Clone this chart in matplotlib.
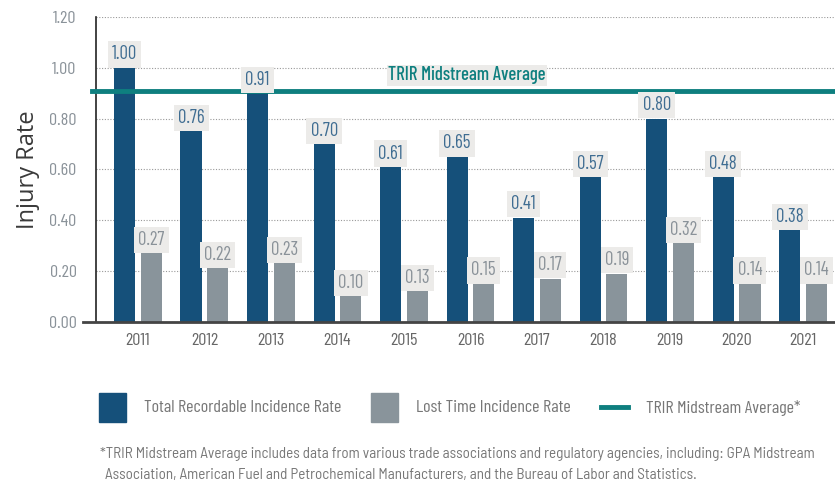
import numpy as np
import matplotlib
matplotlib.use("Agg")
from matplotlib import pyplot as plt
from matplotlib.patches import Rectangle
from matplotlib.lines import Line2D

# data
years = ["2011", "2012", "2013", "2014", "2015", "2016", "2017", "2018", "2019", "2020", "2021"]
trir = [1.00, 0.75, 0.90, 0.70, 0.61, 0.65, 0.41, 0.57, 0.80, 0.57, 0.36]
trir_labels = ["1.00", "0.76", "0.91", "0.70", "0.61", "0.65", "0.41", "0.57", "0.80", "0.48", "0.38"]
ltir = [0.27, 0.21, 0.23, 0.10, 0.12, 0.15, 0.17, 0.19, 0.31, 0.15, 0.15]
ltir_labels = ["0.27", "0.22", "0.23", "0.10", "0.13", "0.15", "0.17", "0.19", "0.32", "0.14", "0.14"]
midstream_avg = 0.91
yticks = [0.0, 0.2, 0.4, 0.6, 0.8, 1.0, 1.2]

blue = "#15507a"
grey = "#89949b"
teal = "#0e7f7f"
boxc = "#ecebe9"
cond = ["Barlow Condensed", "DejaVu Sans"]
semi = ["Barlow Semi Condensed", "DejaVu Sans"]

fig = plt.figure(figsize=(8.35, 4.84), dpi=100)
ax = fig.add_axes([0.115, 0.335, 0.885, 0.63])

x = np.arange(len(years))
w = 0.32
ax.bar(x - 0.2, trir, w, color=blue, zorder=2)
ax.bar(x + 0.2, ltir, w, color=grey, zorder=2)

for i in range(len(years)):
    ax.text(x[i] - 0.2, trir[i] + 0.017, trir_labels[i], ha="center", va="bottom",
            fontsize=13.5, color="#3f6d92", family=cond, zorder=4,
            bbox=dict(boxstyle="square,pad=0.22", fc=boxc, ec="none"))
    ax.text(x[i] + 0.2, ltir[i] + 0.017, ltir_labels[i], ha="center", va="bottom",
            fontsize=13.5, color="#8a9299", family=cond, zorder=4,
            bbox=dict(boxstyle="square,pad=0.22", fc=boxc, ec="none"))

ax.axhline(midstream_avg, color=teal, lw=3.5, zorder=3, xmin=-0.005, clip_on=False)
ax.text(4.95, midstream_avg + 0.025, "TRIR Midstream Average", ha="center", va="bottom",
        fontsize=13.5, color=teal, family=cond, weight="medium", zorder=4,
        bbox=dict(boxstyle="square,pad=0.08", fc=boxc, ec="none"))

ax.set_xlim(-0.63, 10.48)
ax.set_ylim(0, 1.2)
ax.set_yticks(yticks)
ax.set_yticklabels(["%.2f" % t for t in yticks], family=cond, fontsize=13, color="#8a9299")
ax.set_xticks(x)
ax.set_xticklabels(years, family=cond, fontsize=13, color="#666666")
ax.tick_params(axis="both", length=0, pad=8)
ax.tick_params(axis="y", pad=14)
ax.grid(axis="y", linestyle=(0, (1, 1.5)), color="#999999", lw=0.8, zorder=0)
ax.set_ylabel("Injury Rate", fontsize=17, family="Open Sans", color="#3a3a3a", labelpad=6)
for s in ["top", "right"]:
    ax.spines[s].set_visible(False)
ax.spines["left"].set_color("#222222")
ax.spines["left"].set_linewidth(1.2)
ax.spines["bottom"].set_color("#444444")
ax.spines["bottom"].set_linewidth(2)
ax.spines["bottom"].set_bounds(-0.83, 10.48)

# legend
def fx(px):
    return px / 835.0

def fy(py):
    return 1 - py / 484.0

fig.patches.append(Rectangle((fx(99), fy(422)), fx(27), 29 / 484.0, color=blue, transform=fig.transFigure))
fig.text(fx(144), fy(408), "Total Recordable Incidence Rate", va="center", fontsize=13, color="#777777", family=cond)
fig.patches.append(Rectangle((fx(371), fy(422)), fx(27), 29 / 484.0, color=grey, transform=fig.transFigure))
fig.text(fx(416), fy(408), "Lost Time Incidence Rate", va="center", fontsize=13, color="#777777", family=cond)
fig.lines.append(Line2D([fx(601), fx(628)], [fy(407), fy(407)], color=teal, lw=3.5, transform=fig.transFigure))
fig.text(fx(646), fy(408), "TRIR Midstream Average*", va="center", fontsize=13, color="#777777", family=cond)

fig.text(fx(100), fy(454), "*TRIR Midstream Average includes data from various trade associations and regulatory agencies, including: GPA Midstream",
         va="center", fontsize=10.9, color="#777777", family=semi)
fig.text(fx(105), fy(475), "Association, American Fuel and Petrochemical Manufacturers, and the Bureau of Labor and Statistics.",
         va="center", fontsize=10.9, color="#777777", family=semi)

fig.savefig("out.png", dpi=100)
